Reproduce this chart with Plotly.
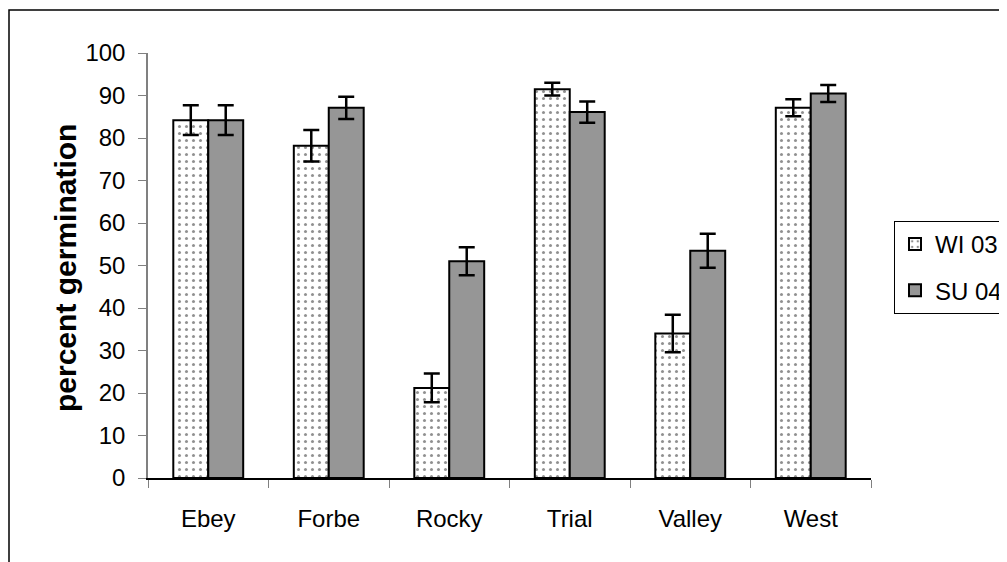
import plotly.graph_objects as go

sites = ["Ebey", "Forbe", "Rocky", "Trial", "Valley", "West"]
wi03 = [84.2, 78.2, 21.2, 91.5, 34.0, 87.1]
wi03_err = [3.5, 3.7, 3.4, 1.5, 4.4, 2.0]
su04 = [84.2, 87.1, 51.0, 86.1, 53.5, 90.5]
su04_err = [3.5, 2.6, 3.3, 2.5, 4.0, 2.0]
y_ticks = list(range(0, 101, 10))

W, H = 999, 554
L, R, T, B = 140, 863, 45, 470
pw, ph = R - L, B - T

fig = go.Figure()
fig.add_trace(go.Bar(
    name="WI 03", x=sites, y=wi03, legendgroup="a",
    error_y=dict(type="data", array=wi03_err, color="black", thickness=2.5, width=8),
    marker=dict(color="white", line=dict(color="black", width=2),
                pattern=dict(shape=".", fgcolor="#222222", bgcolor="white", size=7, solidity=0.15)),
))
fig.add_trace(go.Bar(
    name="SU 04", x=sites, y=su04, legendgroup="b",
    error_y=dict(type="data", array=su04_err, color="black", thickness=2.5, width=8),
    marker=dict(color="#969696", line=dict(color="black", width=2)),
))

fig.update_layout(
    width=W, height=H,
    margin=dict(l=L, r=W - R, t=T, b=H - B, autoexpand=False),
    paper_bgcolor="white", plot_bgcolor="white",
    barmode="group", bargap=0.42, bargroupgap=0,
    font=dict(family="Liberation Sans, Arial, sans-serif", size=24, color="black"),
    showlegend=True,
    legend=dict(x=(886 - L) / pw, y=(B - 213) / ph, xanchor="left", yanchor="top",
                bordercolor="black", borderwidth=1, bgcolor="white",
                font=dict(size=24), itemwidth=30, traceorder="grouped", tracegroupgap=12),
    xaxis=dict(showline=True, linecolor="black", linewidth=1.5,
               ticks="outside", tickson="boundaries", ticklen=8, tickcolor="#808080",
               ticklabelstandoff=18, showgrid=False, zeroline=False),
    yaxis=dict(range=[0, 100], tickvals=y_ticks, showline=True, linecolor="#808080",
               linewidth=1.5, ticks="outside", ticklen=8, tickcolor="#808080",
               ticklabelstandoff=8, showgrid=False, zeroline=False),
    annotations=[dict(text="<b>percent germination</b>", textangle=-90,
                      xref="paper", yref="paper", x=(57 - L) / pw, y=(B - 260) / ph,
                      xanchor="center", yanchor="middle",
                      showarrow=False, font=dict(size=30))],
    shapes=[dict(type="rect", xref="paper", yref="paper",
                 x0=(1 - L) / pw, x1=(W + 10 - L) / pw,
                 y0=(B - H - 10) / ph, y1=(B - 2) / ph,
                 line=dict(color="black", width=1.5), fillcolor="rgba(0,0,0,0)", layer="below")],
)

fig.write_html("out.html")
